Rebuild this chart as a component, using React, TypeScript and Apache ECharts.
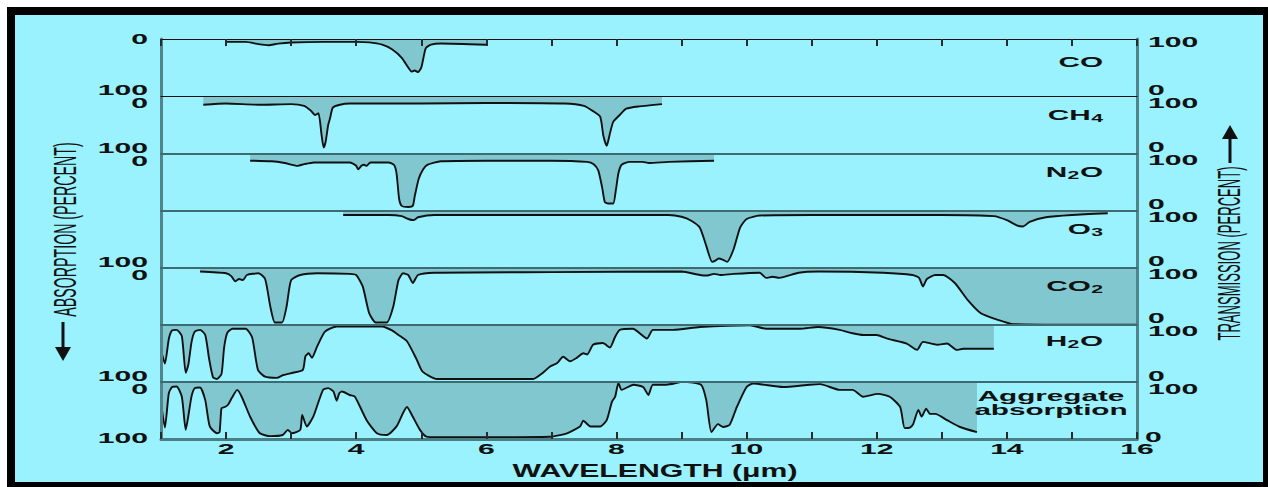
import React, { useEffect, useRef } from "react";
import * as echarts from "echarts";

// ---- data (wavelength µm, absorption %) ----
const CO = [[2.0,5],[2.3,5],[2.5,9],[2.65,11],[2.8,8],[3.0,6],[3.5,5],[4.0,5],[4.2,6],[4.4,10],[4.55,18],[4.7,33],[4.8,50],[4.85,57],[4.9,55],[4.95,58],[5.0,50],[5.03,35],[5.07,16],[5.15,10],[5.3,8],[6.0,10]];
const CH4 = [[1.65,15],[2.0,13],[2.5,15],[3.0,14],[3.2,17],[3.3,25],[3.37,33],[3.42,30],[3.47,70],[3.5,90],[3.53,80],[3.57,50],[3.6,38],[3.64,20],[3.75,15],[3.9,13],[5,13],[6,12],[7.2,13],[7.5,17],[7.65,27],[7.75,36],[7.8,70],[7.85,87],[7.9,65],[7.95,45],[8.05,33],[8.15,22],[8.35,18],[8.7,14]];
const N2O = [[2.37,13],[2.7,14],[2.9,17],[3.1,22],[3.2,19],[3.35,16],[3.9,16],[4.0,22],[4.03,28],[4.08,22],[4.12,20],[4.16,22],[4.22,16],[4.5,16],[4.58,20],[4.62,35],[4.66,80],[4.7,92],[4.8,94],[4.87,92],[4.9,75],[4.96,45],[5.03,28],[5.1,20],[5.3,14],[6,13],[7.0,13],[7.55,15],[7.65,19],[7.72,30],[7.78,60],[7.82,85],[7.87,88],[7.95,88],[7.99,65],[8.03,35],[8.08,20],[8.2,15],[8.4,15],[8.5,17],[8.8,15],[9.5,13]];
const O3 = [[3.8,8],[4.5,8],[4.7,10],[4.8,15],[4.88,17],[4.95,12],[5.2,8],[7,8],[8.8,8],[9.0,11],[9.15,18],[9.28,30],[9.38,62],[9.47,90],[9.52,88],[9.57,84],[9.63,86],[9.7,90],[9.8,68],[9.9,30],[10.0,15],[10.2,9],[11,8],[13,8],[13.8,10],[14.0,17],[14.15,26],[14.25,28],[14.35,20],[14.6,12],[15.0,8],[15.55,5]];
const CO2 = [[1.6,7],[2.0,10],[2.08,15],[2.14,24],[2.2,20],[2.26,22],[2.32,13],[2.5,10],[2.6,20],[2.68,68],[2.75,96],[2.86,96],[2.93,68],[3.0,22],[3.14,13],[3.4,10],[3.9,11],[4.0,13],[4.1,33],[4.2,80],[4.3,96],[4.47,96],[4.57,68],[4.65,22],[4.72,10],[4.8,13],[4.87,27],[4.95,13],[5.2,9],[7,8],[9.0,7],[9.28,13],[9.4,14],[9.5,11],[9.6,13],[9.8,11],[10.2,9],[10.3,18],[10.4,16],[10.5,18],[10.8,9],[11.1,7],[12.1,9],[12.55,13],[12.65,18],[12.71,33],[12.77,20],[12.9,13],[13.02,13],[13.2,27],[13.4,57],[13.6,80],[13.85,91],[14.1,99],[15,100],[16,100]];
const H2O = [[1.0,45],[1.06,68],[1.12,25],[1.17,10],[1.24,9],[1.32,20],[1.38,84],[1.42,70],[1.47,30],[1.52,12],[1.6,9],[1.68,18],[1.74,60],[1.8,92],[1.86,95],[1.93,86],[1.97,40],[2.02,14],[2.1,7],[2.3,7],[2.4,22],[2.49,79],[2.6,91],[2.78,93],[2.88,88],[3.03,84],[3.18,79],[3.22,55],[3.27,50],[3.32,58],[3.4,38],[3.52,12],[3.7,3],[4.4,3],[4.55,10],[4.65,18],[4.78,29],[4.93,61],[5.02,82],[5.24,95],[6.72,95],[6.87,84],[6.98,73],[7.09,67],[7.18,56],[7.29,64],[7.39,58],[7.49,50],[7.55,52],[7.64,35],[7.79,32],[7.9,40],[7.98,21],[8.05,9],[8.25,7],[8.47,24],[8.56,9],[8.87,9],[9.28,4],[10.05,1],[10.3,7],[10.82,7],[11.1,4],[11.43,9],[11.63,15],[11.79,18],[12.0,18],[12.15,24],[12.46,33],[12.62,44],[12.71,30],[12.93,35],[13.08,33],[13.23,44],[13.33,42],[13.8,42]];
const AGGREGATE = [[1.0,37],[1.06,80],[1.12,20],[1.17,9],[1.24,8],[1.32,26],[1.38,84],[1.42,60],[1.47,25],[1.52,11],[1.6,10],[1.68,32],[1.75,78],[1.86,90],[1.9,88],[1.93,46],[1.98,44],[2.03,40],[2.09,28],[2.17,14],[2.24,26],[2.37,61],[2.52,90],[2.68,95],[2.87,93],[2.95,84],[3.01,90],[3.14,84],[3.17,58],[3.24,78],[3.34,61],[3.49,14],[3.57,11],[3.65,17],[3.7,33],[3.74,20],[3.78,17],[3.9,23],[3.98,26],[4.16,67],[4.32,90],[4.47,93],[4.62,78],[4.78,44],[4.87,61],[4.98,84],[5.08,96],[5.24,97],[6.98,96],[7.24,90],[7.44,78],[7.49,68],[7.6,78],[7.75,78],[7.85,67],[7.93,35],[7.98,26],[8.03,2],[8.08,14],[8.26,5],[8.41,9],[8.49,23],[8.56,5],[8.77,5],[9.03,0],[9.3,5],[9.38,32],[9.46,88],[9.56,74],[9.64,79],[9.74,75],[9.85,44],[10.0,9],[10.1,3],[10.56,9],[10.97,5],[11.13,4],[11.43,14],[11.63,14],[11.79,26],[12.02,21],[12.2,26],[12.36,44],[12.43,81],[12.51,80],[12.56,74],[12.64,49],[12.69,61],[12.76,47],[12.82,56],[12.9,56],[13.08,67],[13.28,79],[13.54,88]];

const PANELS = [CO, CH4, N2O, O3, CO2, H2O, AGGREGATE];
// gas labels: [text, isSubscript]
const GAS_LABELS = [
  [["CO", 0]],
  [["CH", 0], ["4", 1]],
  [["N", 0], ["2", 1], ["O", 0]],
  [["O", 0], ["3", 1]],
  [["CO", 0], ["2", 1]],
  [["H", 0], ["2", 1], ["O", 0]],
];
const AGG_LABEL = ["Aggregate", "absorption"];
const X_TICK_VALUES = [2, 4, 6, 8, 10, 12, 14, 16];
const LEFT_TICK_LABELS = [["0"], ["100", "0"], ["100", "0"], [], ["100", "0"], [], ["100", "0"], ["100"]];
const RIGHT_TICK_LABELS = [["100"], ["0", "100"], ["0", "100"], ["0", "100"], ["0", "100"], ["0", "100"], ["0", "100"], ["0"]];
const X_TITLE = "WAVELENGTH (μm)";
const LEFT_TITLE = "ABSORPTION (PERCENT)";
const RIGHT_TITLE = "TRANSMISSION (PERCENT)";

// ---- layout / style ----
const LEFT = 161;
const PLOT_W = 976;
const TOP = 39;
const PANEL_H = 400 / 7;
const FONT = "Liberation Sans";
const INK = "#111";
const GAS_CY = [23, 19, 19, 19, 18.5, 16.5];

let measureCtx: CanvasRenderingContext2D | null = null;
function textW(t: string, size: number, weight: string) {
  if (!measureCtx) measureCtx = document.createElement("canvas").getContext("2d");
  measureCtx!.font = `${weight} ${size}px "${FONT}"`;
  return measureCtx!.measureText(t).width;
}

function txt(x: number, y: number, text: string, o: any = {}) {
  const align = o.align || "center";
  return {
    type: "text",
    x, y,
    scaleX: o.sx ?? 1,
    scaleY: o.sy ?? 1,
    rotation: o.rot ?? 0,
    silent: true,
    z: 20,
    style: {
      text,
      fontSize: o.size ?? 14,
      fontWeight: o.weight ?? "bold",
      fontFamily: FONT,
      fill: INK,
      align, textAlign: align,
      verticalAlign: "middle", textVerticalAlign: "middle",
    },
  };
}

export default function App() {
  const ref = useRef<HTMLDivElement>(null);
  useEffect(() => {
    const chart = echarts.init(ref.current!, null, { renderer: "svg" });
    const n = PANELS.length;
    const grids = PANELS.map((_, i) => ({ left: LEFT, top: TOP + i * PANEL_H, width: PLOT_W, height: PANEL_H }));
    const xAxes: any[] = PANELS.map((_, i) => ({
      type: "value", gridIndex: i, min: 1, max: 16, interval: 1, position: "bottom", z: 5,
      axisLine: { show: true, onZero: false, lineStyle: i === n - 1 ? { color: "#4a7e85", width: 3 } : i === 0 ? { color: "#111", width: 1.2 } : { color: "#3d6b71", width: 2 } },
      axisTick: { show: i === n - 1, inside: true, length: 7, lineStyle: { color: "#2a2a2a", width: 2 } },
      axisLabel: { show: false }, splitLine: { show: false },
    }));
    xAxes.push({
      type: "value", gridIndex: 0, min: 1, max: 16, interval: 1, position: "top", z: 5,
      axisLine: { show: true, onZero: false, lineStyle: { color: "#111", width: 1.2 } },
      axisTick: { show: true, inside: true, length: 7, lineStyle: { color: "#2a2a2a", width: 2 } },
      axisLabel: { show: false }, splitLine: { show: false },
    });
    const yAx = (i: number, pos: string) => ({
      type: "value", gridIndex: i, min: 0, max: 100, inverse: true, position: pos, z: 5,
      axisLine: { show: true, onZero: false, lineStyle: { color: "#52848b", width: 3 } },
      axisTick: { show: false }, axisLabel: { show: false }, splitLine: { show: false },
    });
    const yAxes = [...PANELS.map((_, i) => yAx(i, "left")), ...PANELS.map((_, i) => yAx(i, "right"))];
    const series = PANELS.map((d, i) => ({
      type: "line", xAxisIndex: i, yAxisIndex: i, data: d, showSymbol: false, symbol: "none",
      smooth: 0.2, z: 3,
      lineStyle: { color: "#111", width: 1.9 },
      areaStyle: { color: "#80c7d0", opacity: 1, origin: "start" },
    }));
    chart.setOption({ animation: false, backgroundColor: "transparent", grid: grids, xAxis: xAxes, yAxis: yAxes, series });

    const px = (i: number, x: number, y: number) => chart.convertToPixel({ xAxisIndex: i, yAxisIndex: i } as any, [x, y]) as number[];
    const boundaryY = (k: number) => (k < n ? px(k, 1, 0)[1] : px(n - 1, 1, 100)[1]);
    const leftX = px(0, 1, 0)[0];
    const rightX = px(0, 16, 0)[0];
    const els: any[] = [];
    const DSX = 2.15;
    // left / right tick labels
    for (let k = 0; k <= n; k++) {
      const by = boundaryY(k);
      const L = LEFT_TICK_LABELS[k];
      if (L.length === 2) {
        els.push(txt(leftX - 13, by - 5.5, L[0], { align: "right", sx: DSX }));
        els.push(txt(leftX - 13, by + 7.5, L[1], { align: "right", sx: DSX }));
      } else if (L.length === 1) {
        els.push(txt(leftX - 13, by + (k === 0 ? 0.5 : -1), L[0], { align: "right", sx: DSX }));
      }
      const R = RIGHT_TICK_LABELS[k];
      if (R.length === 2) {
        els.push(txt(rightX + 11, by - 6, R[0], { align: "left", sx: DSX }));
        els.push(txt(rightX + 11, by + 7, R[1], { align: "left", sx: DSX }));
      } else if (R.length === 1) {
        els.push(txt(rightX + (k === 0 ? 11 : 8), by + (k === 0 ? 3 : -2), R[0], { align: "left", sx: DSX }));
      }
    }
    // x tick labels
    const bottomY = boundaryY(n);
    X_TICK_VALUES.forEach((v) => {
      const p = px(n - 1, v, 100);
      els.push(txt(p[0], bottomY + 10.5, String(v), { sx: DSX }));
    });
    // x title
    els.push(txt((leftX + rightX) / 2 + 6, bottomY + 31.5, X_TITLE, { size: 18, sx: 1.68 }));
    // gas labels
    const GSX = 2.12;
    GAS_LABELS.forEach((pieces, i) => {
      let xr = rightX - 34;
      const cy = boundaryY(i) + GAS_CY[i];
      for (let j = pieces.length - 1; j >= 0; j--) {
        const [t, sub] = pieces[j] as [string, number];
        const size = sub ? 10 : 14;
        els.push(txt(xr, cy + (sub ? 3.5 : 0), t, { align: "right", sx: GSX, size }));
        xr -= textW(t, size, "bold") * GSX + 0.5;
      }
    });
    const aggTop = boundaryY(n - 1);
    els.push(txt(rightX - 86, aggTop + 14, AGG_LABEL[0], { sx: GSX }));
    els.push(txt(rightX - 86, aggTop + 28, AGG_LABEL[1], { sx: GSX }));
    // vertical titles
    els.push(txt(65, 229.5, LEFT_TITLE, { size: 14.2, weight: "normal", rot: Math.PI / 2, sx: 1.0, sy: 2.15 }));
    els.push(txt(1230, 253.5, RIGHT_TITLE, { size: 14.2, weight: "normal", rot: Math.PI / 2, sx: 0.92, sy: 2.15 }));
    // arrows
    els.push({ type: "line", silent: true, z: 20, shape: { x1: 63, y1: 322, x2: 63, y2: 350 }, style: { stroke: INK, lineWidth: 3 } });
    els.push({ type: "polygon", silent: true, z: 20, shape: { points: [[55, 347], [71, 347], [63, 361]] }, style: { fill: INK } });
    els.push({ type: "line", silent: true, z: 20, shape: { x1: 1230, y1: 136, x2: 1230, y2: 163 }, style: { stroke: INK, lineWidth: 3 } });
    els.push({ type: "polygon", silent: true, z: 20, shape: { points: [[1222, 139], [1238, 139], [1230, 125]] }, style: { fill: INK } });

    chart.setOption({ graphic: { elements: els } });
    return () => chart.dispose();
  }, []);

  return (
    <div style={{ position: "fixed", left: 0, top: 0, width: 1268, height: 487, background: "#fff" }}>
      <div style={{ position: "absolute", left: 7, top: 7, width: 1261, height: 480, background: "#000" }} />
      <div style={{ position: "absolute", left: 15, top: 15, width: 1248, height: 467, background: "#9af2fe" }} />
      <div ref={ref} style={{ position: "absolute", left: 0, top: 0, width: 1268, height: 487 }} />
    </div>
  );
}
